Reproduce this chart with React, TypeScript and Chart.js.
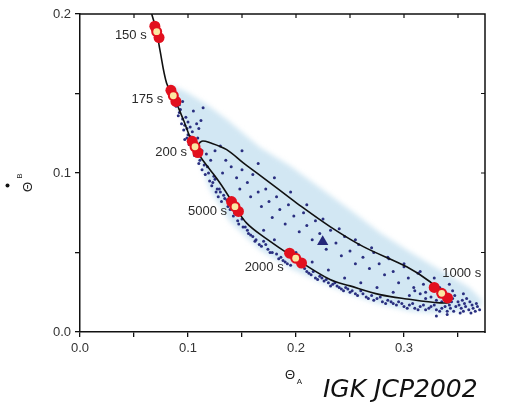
import React, { useEffect, useRef } from "react";
import { Chart, registerables } from "chart.js";

Chart.register(...registerables);

// ---------- axis ticks ----------
const xMajorTicks = [0, 0.1, 0.2, 0.3];
const xMinorTicks = [0.05, 0.15, 0.25, 0.35];
const yMajorTicks = [0, 0.1, 0.2];
const yMinorTicks = [0.05, 0.15];
const xTitle = "Θ";
const xTitleSub = "A";
const yTitle = "Θ";
const yTitleSub = "B";
const creditText = "IGK JCP2002";

// ---------- trajectory (black line) ----------
const curveX = [
  0.0664, 0.071, 0.074, 0.0802, 0.0864, 0.0957, 0.1065, 0.1127, 0.1204, 0.1358,
  0.1512, 0.1667, 0.1821, 0.2006, 0.2315, 0.2623, 0.3025, 0.3241, 0.3349, 0.3425,
  0.3333, 0.3025, 0.2778, 0.25, 0.2315, 0.2, 0.1698, 0.1543, 0.1435, 0.1389,
  0.1296, 0.1204, 0.1111, 0.1065,
];
const curveY = [
  0.2, 0.1889, 0.1774, 0.1564, 0.1486, 0.1335, 0.1165, 0.12, 0.119, 0.1147,
  0.1063, 0.0985, 0.0906, 0.0811, 0.0663, 0.0537, 0.041, 0.0316, 0.0243, 0.019,
  0.0183, 0.0208, 0.0235, 0.029, 0.033, 0.046, 0.06, 0.0685, 0.0788, 0.084,
  0.0937, 0.1021, 0.1105, 0.1165,
];

// ---------- light-blue cloud outline ----------
const cloudUpperX = [0.0815, 0.0972, 0.1157, 0.1361, 0.1667, 0.1944, 0.2222, 0.25, 0.2778, 0.3056, 0.3333, 0.3611, 0.3722];
const cloudUpperY = [0.1558, 0.1514, 0.1438, 0.1337, 0.116, 0.1046, 0.0908, 0.0769, 0.0624, 0.0503, 0.039, 0.0276, 0.02];
const cloudLowerX = [0.3704, 0.3611, 0.3333, 0.3056, 0.2778, 0.25, 0.2222, 0.1944, 0.1667, 0.1389, 0.1204, 0.1065, 0.0944, 0.0833];
const cloudLowerY = [0.0156, 0.0137, 0.0118, 0.0131, 0.0175, 0.0238, 0.0314, 0.0402, 0.0516, 0.0693, 0.0895, 0.1147, 0.1349, 0.1514];

// ---------- dark sample points ----------
const samplePoints: [number, number][] = [
  [0.089, 0.142], [0.092, 0.138], [0.094, 0.131], [0.096, 0.127], [0.098, 0.135], [0.1, 0.124],
  [0.097, 0.121], [0.102, 0.129], [0.104, 0.126], [0.101, 0.118], [0.105, 0.139], [0.108, 0.131],
  [0.11, 0.128], [0.112, 0.133], [0.109, 0.122], [0.095, 0.145], [0.114, 0.141], [0.106, 0.111],
  [0.11, 0.106], [0.113, 0.102], [0.116, 0.099], [0.118, 0.104], [0.12, 0.095], [0.122, 0.092],
  [0.124, 0.098], [0.126, 0.088], [0.128, 0.085], [0.131, 0.082], [0.117, 0.112], [0.121, 0.108],
  [0.113, 0.114],
  [0.125, 0.114], [0.13, 0.117], [0.135, 0.108], [0.132, 0.1], [0.14, 0.104], [0.145, 0.097],
  [0.15, 0.102], [0.148, 0.09], [0.155, 0.094], [0.158, 0.085], [0.16, 0.099], [0.165, 0.088],
  [0.168, 0.079], [0.172, 0.09], [0.175, 0.082], [0.178, 0.072], [0.182, 0.085], [0.185, 0.077],
  [0.19, 0.068], [0.193, 0.08], [0.198, 0.073], [0.203, 0.063], [0.207, 0.075], [0.21, 0.067],
  [0.215, 0.058], [0.218, 0.07], [0.222, 0.062], [0.228, 0.052], [0.232, 0.064], [0.237, 0.056],
  [0.242, 0.048], [0.245, 0.06], [0.25, 0.051], [0.255, 0.043], [0.258, 0.055], [0.262, 0.047],
  [0.268, 0.04], [0.272, 0.05], [0.277, 0.043], [0.282, 0.036], [0.286, 0.046], [0.29, 0.038],
  [0.295, 0.031], [0.3, 0.041], [0.304, 0.034], [0.309, 0.028], [0.313, 0.037], [0.318, 0.03],
  [0.15, 0.114], [0.165, 0.106], [0.18, 0.097], [0.195, 0.088], [0.21, 0.08], [0.225, 0.071],
  [0.24, 0.065], [0.255, 0.058], [0.27, 0.053], [0.285, 0.047], [0.3, 0.043], [0.315, 0.038],
  [0.328, 0.034], [0.342, 0.03], [0.355, 0.024],
  [0.13, 0.088], [0.134, 0.084], [0.137, 0.079], [0.14, 0.08], [0.143, 0.075], [0.146, 0.07],
  [0.15, 0.071], [0.153, 0.066], [0.156, 0.062], [0.16, 0.06], [0.163, 0.058], [0.166, 0.055],
  [0.17, 0.057], [0.174, 0.052], [0.178, 0.05], [0.182, 0.049], [0.186, 0.047], [0.19, 0.044],
  [0.195, 0.042], [0.21, 0.038], [0.214, 0.036], [0.218, 0.034], [0.222, 0.035], [0.226, 0.032],
  [0.23, 0.031], [0.234, 0.03], [0.238, 0.029], [0.242, 0.027], [0.246, 0.028], [0.25, 0.025],
  [0.255, 0.024], [0.26, 0.026], [0.265, 0.022], [0.27, 0.023], [0.275, 0.021], [0.28, 0.019],
  [0.285, 0.02], [0.29, 0.018], [0.295, 0.019], [0.3, 0.016], [0.305, 0.017], [0.31, 0.015],
  [0.315, 0.016], [0.32, 0.014], [0.325, 0.016], [0.33, 0.014], [0.335, 0.015], [0.34, 0.013],
  [0.17, 0.064], [0.18, 0.058], [0.2, 0.05], [0.215, 0.044], [0.23, 0.039], [0.245, 0.034],
  [0.26, 0.031], [0.275, 0.028], [0.29, 0.025], [0.305, 0.023], [0.32, 0.021],
  [0.31, 0.026], [0.315, 0.024], [0.32, 0.025], [0.325, 0.022], [0.33, 0.02], [0.335, 0.019],
  [0.338, 0.022], [0.342, 0.017], [0.345, 0.021], [0.348, 0.016], [0.35, 0.019], [0.353, 0.015],
  [0.356, 0.018], [0.36, 0.014], [0.363, 0.017], [0.366, 0.013], [0.368, 0.016], [0.358, 0.021],
  [0.345, 0.026], [0.333, 0.028], [0.327, 0.027], [0.352, 0.012], [0.34, 0.011], [0.33, 0.01],
  [0.1, 0.132], [0.103, 0.12], [0.107, 0.113], [0.111, 0.108], [0.115, 0.105], [0.119, 0.1],
  [0.123, 0.094], [0.127, 0.09],
  [0.091, 0.136], [0.093, 0.14], [0.095, 0.134], [0.097, 0.13], [0.099, 0.128], [0.099, 0.122],
  [0.102, 0.123], [0.104, 0.119], [0.092, 0.143], [0.09, 0.146],
  [0.125, 0.096], [0.129, 0.09], [0.133, 0.086], [0.136, 0.083], [0.139, 0.077], [0.142, 0.073],
  [0.147, 0.068], [0.151, 0.066], [0.155, 0.064], [0.158, 0.061], [0.162, 0.057], [0.168, 0.054],
  [0.172, 0.055], [0.176, 0.05], [0.184, 0.046], [0.188, 0.045], [0.192, 0.043], [0.208, 0.04],
  [0.212, 0.037], [0.216, 0.038], [0.22, 0.033], [0.224, 0.034], [0.228, 0.033], [0.232, 0.029],
  [0.236, 0.031], [0.24, 0.028], [0.244, 0.026], [0.248, 0.027], [0.252, 0.026], [0.257, 0.023],
  [0.262, 0.024], [0.267, 0.021], [0.272, 0.02], [0.278, 0.022], [0.283, 0.018], [0.288, 0.019],
  [0.293, 0.017], [0.298, 0.018], [0.303, 0.015], [0.308, 0.018], [0.313, 0.014], [0.318, 0.017],
  [0.323, 0.015], [0.328, 0.017], [0.333, 0.013], [0.338, 0.016], [0.343, 0.015], [0.346, 0.013],
  [0.337, 0.025], [0.339, 0.019], [0.344, 0.019], [0.347, 0.023], [0.351, 0.017], [0.354, 0.02],
  [0.357, 0.016], [0.361, 0.019], [0.364, 0.015], [0.367, 0.018], [0.37, 0.014], [0.362, 0.012],
  [0.355, 0.013],
];

// ---------- time markers ----------
const markerLabels = ["150 s", "175 s", "200 s", "5000 s", "2000 s", "1000 s"];
const markerX = [0.071, 0.0864, 0.1065, 0.1435, 0.1997, 0.3349];
const markerY = [0.1889, 0.1486, 0.1165, 0.0788, 0.0464, 0.0243];
const markerBlobX = [
  0.0693, 0.071, 0.0732,
  0.0842, 0.0864, 0.0888,
  0.1039, 0.1065, 0.1091,
  0.1403, 0.1435, 0.1467,
  0.1941, 0.1997, 0.2051,
  0.328, 0.3349, 0.3403,
];
const markerBlobY = [
  0.1923, 0.1889, 0.1852,
  0.152, 0.1486, 0.145,
  0.1199, 0.1165, 0.1129,
  0.082, 0.0788, 0.0758,
  0.0496, 0.0464, 0.0434,
  0.028, 0.0243, 0.0214,
];
const steadyX = [0.2247];
const steadyY = [0.0568];

// label placement (pixels relative to marker) – style, not data
const labelPlacement: { dx: number; dy: number; align: CanvasTextAlign }[] = [
  { dx: -10, dy: 4, align: "right" },
  { dx: -10, dy: 4, align: "right" },
  { dx: -8, dy: 6, align: "right" },
  { dx: -8, dy: 5, align: "right" },
  { dx: -12, dy: 9, align: "right" },
  { dx: 20, dy: -20, align: "center" },
];

const FONT = "'Liberation Sans', Arial, sans-serif";

const decorPlugin = {
  id: "decor",
  beforeDatasetsDraw(chart: any) {
    const { ctx, chartArea, scales } = chart;
    const sx = scales.x, sy = scales.y;
    ctx.save();
    ctx.beginPath();
    ctx.rect(chartArea.left, chartArea.top, chartArea.right - chartArea.left, chartArea.bottom - chartArea.top);
    ctx.clip();
    ctx.filter = "blur(2.5px)";
    ctx.beginPath();
    cloudUpperX.forEach((x, i) => {
      const px = sx.getPixelForValue(x), py = sy.getPixelForValue(cloudUpperY[i]);
      if (i === 0) ctx.moveTo(px, py); else ctx.lineTo(px, py);
    });
    cloudLowerX.forEach((x, i) => {
      ctx.lineTo(sx.getPixelForValue(x), sy.getPixelForValue(cloudLowerY[i]));
    });
    ctx.closePath();
    ctx.fillStyle = "rgb(210,231,243)";
    ctx.fill();
    ctx.restore();
  },
  afterDatasetsDraw(chart: any) {
    const { ctx, scales } = chart;
    const sx = scales.x, sy = scales.y;
    ctx.save();
    ctx.font = `13px ${FONT}`;
    ctx.fillStyle = "#2a2a2a";
    ctx.textBaseline = "middle";
    markerLabels.forEach((t, i) => {
      const p = labelPlacement[i];
      ctx.textAlign = p.align;
      ctx.fillText(t, sx.getPixelForValue(markerX[i]) + p.dx, sy.getPixelForValue(markerY[i]) + p.dy);
    });
    ctx.restore();
  },
  afterDraw(chart: any) {
    const { ctx, chartArea, scales } = chart;
    const sx = scales.x, sy = scales.y;
    const { left, right, top, bottom } = chartArea;
    ctx.save();
    ctx.strokeStyle = "#111";
    ctx.lineWidth = 1.5;
    ctx.beginPath();
    ctx.moveTo(left - 1, top);
    ctx.lineTo(right, top);
    ctx.lineTo(right, bottom + 1);
    ctx.stroke();
    // inward ticks on top and right
    ctx.lineWidth = 1.2;
    ctx.beginPath();
    [...xMajorTicks, ...xMinorTicks].forEach((v) => {
      if (v === 0) return;
      const px = sx.getPixelForValue(v);
      ctx.moveTo(px, top);
      ctx.lineTo(px, top + 4);
    });
    [...yMajorTicks, ...yMinorTicks].forEach((v) => {
      if (v === 0 || v === 0.2) return;
      const py = sy.getPixelForValue(v);
      ctx.moveTo(right, py);
      ctx.lineTo(right - 4, py);
    });
    ctx.stroke();

    // axis titles
    ctx.fillStyle = "#222";
    ctx.textAlign = "center";
    ctx.textBaseline = "middle";
    ctx.font = `13px ${FONT}`;
    ctx.fillText(xTitle, 290, 375);
    ctx.font = `8px ${FONT}`;
    ctx.fillText(xTitleSub, 299.5, 382);

    ctx.save();
    ctx.translate(28, 187);
    ctx.rotate(-Math.PI / 2);
    ctx.font = `13px ${FONT}`;
    ctx.fillText(yTitle, 0, 0);
    ctx.font = `8px ${FONT}`;
    ctx.fillText(yTitleSub, 11, -8);
    ctx.restore();

    // bullet
    ctx.beginPath();
    ctx.arc(7.5, 185.5, 2, 0, Math.PI * 2);
    ctx.fillStyle = "#111";
    ctx.fill();

    // credit
    ctx.font = `italic 25px 'DejaVu Sans', Verdana, sans-serif`;
    ctx.textAlign = "left";
    ctx.textBaseline = "alphabetic";
    ctx.fillStyle = "#111";
    ctx.fillText(creditText, 323, 397);
    ctx.restore();
  },
};

export default function App() {
  const ref = useRef<HTMLCanvasElement>(null);
  useEffect(() => {
    if (!ref.current) return;
    const xTicksAll = [...xMajorTicks, ...xMinorTicks].sort((a, b) => a - b);
    const yTicksAll = [...yMajorTicks, ...yMinorTicks].sort((a, b) => a - b);
    const chart = new Chart(ref.current, {
      type: "scatter",
      data: {
        datasets: [
          {
            label: "steady state",
            data: steadyX.map((x, i) => ({ x, y: steadyY[i] })),
            pointStyle: "triangle",
            pointRadius: 6.5,
            backgroundColor: "#25287a",
            borderColor: "#25287a",
            borderWidth: 0,
            order: 0,
          },
          {
            label: "marker centers",
            data: markerX.map((x, i) => ({ x, y: markerY[i] })),
            pointRadius: 3.4,
            backgroundColor: "#fbe8a2",
            borderWidth: 0,
            order: 1,
          },
          {
            label: "marker blobs",
            data: markerBlobX.map((x, i) => ({ x, y: markerBlobY[i] })),
            pointRadius: 5.5,
            backgroundColor: "#e2101e",
            borderWidth: 0,
            order: 2,
          },
          {
            label: "trajectory",
            data: curveX.map((x, i) => ({ x, y: curveY[i] })),
            showLine: true,
            tension: 0.35,
            borderColor: "#111",
            borderWidth: 1.6,
            pointRadius: 0,
            fill: false,
            order: 3,
          },
          {
            label: "samples",
            data: samplePoints.map(([x, y]) => ({ x, y })),
            pointRadius: 1.5,
            backgroundColor: "#2a2f80",
            borderWidth: 0,
            order: 4,
          },
        ],
      },
      options: {
        responsive: false,
        animation: false,
        events: [],
        layout: { padding: { left: 0, right: 21, top: 14, bottom: 0 } },
        plugins: { legend: { display: false }, tooltip: { enabled: false } },
        scales: {
          x: {
            type: "linear",
            min: 0,
            max: 0.375,
            afterBuildTicks: (s: any) => {
              s.ticks = xTicksAll.map((v) => ({ value: v }));
            },
            afterFit: (s: any) => {
              s.height = 70;
            },
            border: { color: "#111", width: 1.5 },
            grid: { drawOnChartArea: false, tickLength: 5, color: "#111", lineWidth: 1.3 },
            ticks: {
              autoSkip: false,
              maxRotation: 0,
              padding: 4,
              color: "#333",
              font: { family: FONT, size: 13 },
              callback: (v: any) => (xMajorTicks.some((m) => Math.abs(m - v) < 1e-9) ? Number(v).toFixed(1) : ""),
            },
          },
          y: {
            type: "linear",
            min: 0,
            max: 0.2,
            afterBuildTicks: (s: any) => {
              s.ticks = yTicksAll.map((v) => ({ value: v }));
            },
            afterFit: (s: any) => {
              s.width = 80;
            },
            border: { color: "#111", width: 1.5 },
            grid: { drawOnChartArea: false, tickLength: 5, color: "#111", lineWidth: 1.3 },
            ticks: {
              autoSkip: false,
              padding: 4,
              color: "#333",
              font: { family: FONT, size: 13 },
              callback: (v: any) => (yMajorTicks.some((m) => Math.abs(m - v) < 1e-9) ? Number(v).toFixed(1) : ""),
            },
          },
        },
      },
      plugins: [decorPlugin],
    });
    return () => chart.destroy();
  }, []);
  return (
    <div style={{ position: "fixed", left: 0, top: 0, width: 506, height: 402, background: "#fff" }}>
      <canvas ref={ref} width={506} height={402} style={{ display: "block" }} />
    </div>
  );
}
